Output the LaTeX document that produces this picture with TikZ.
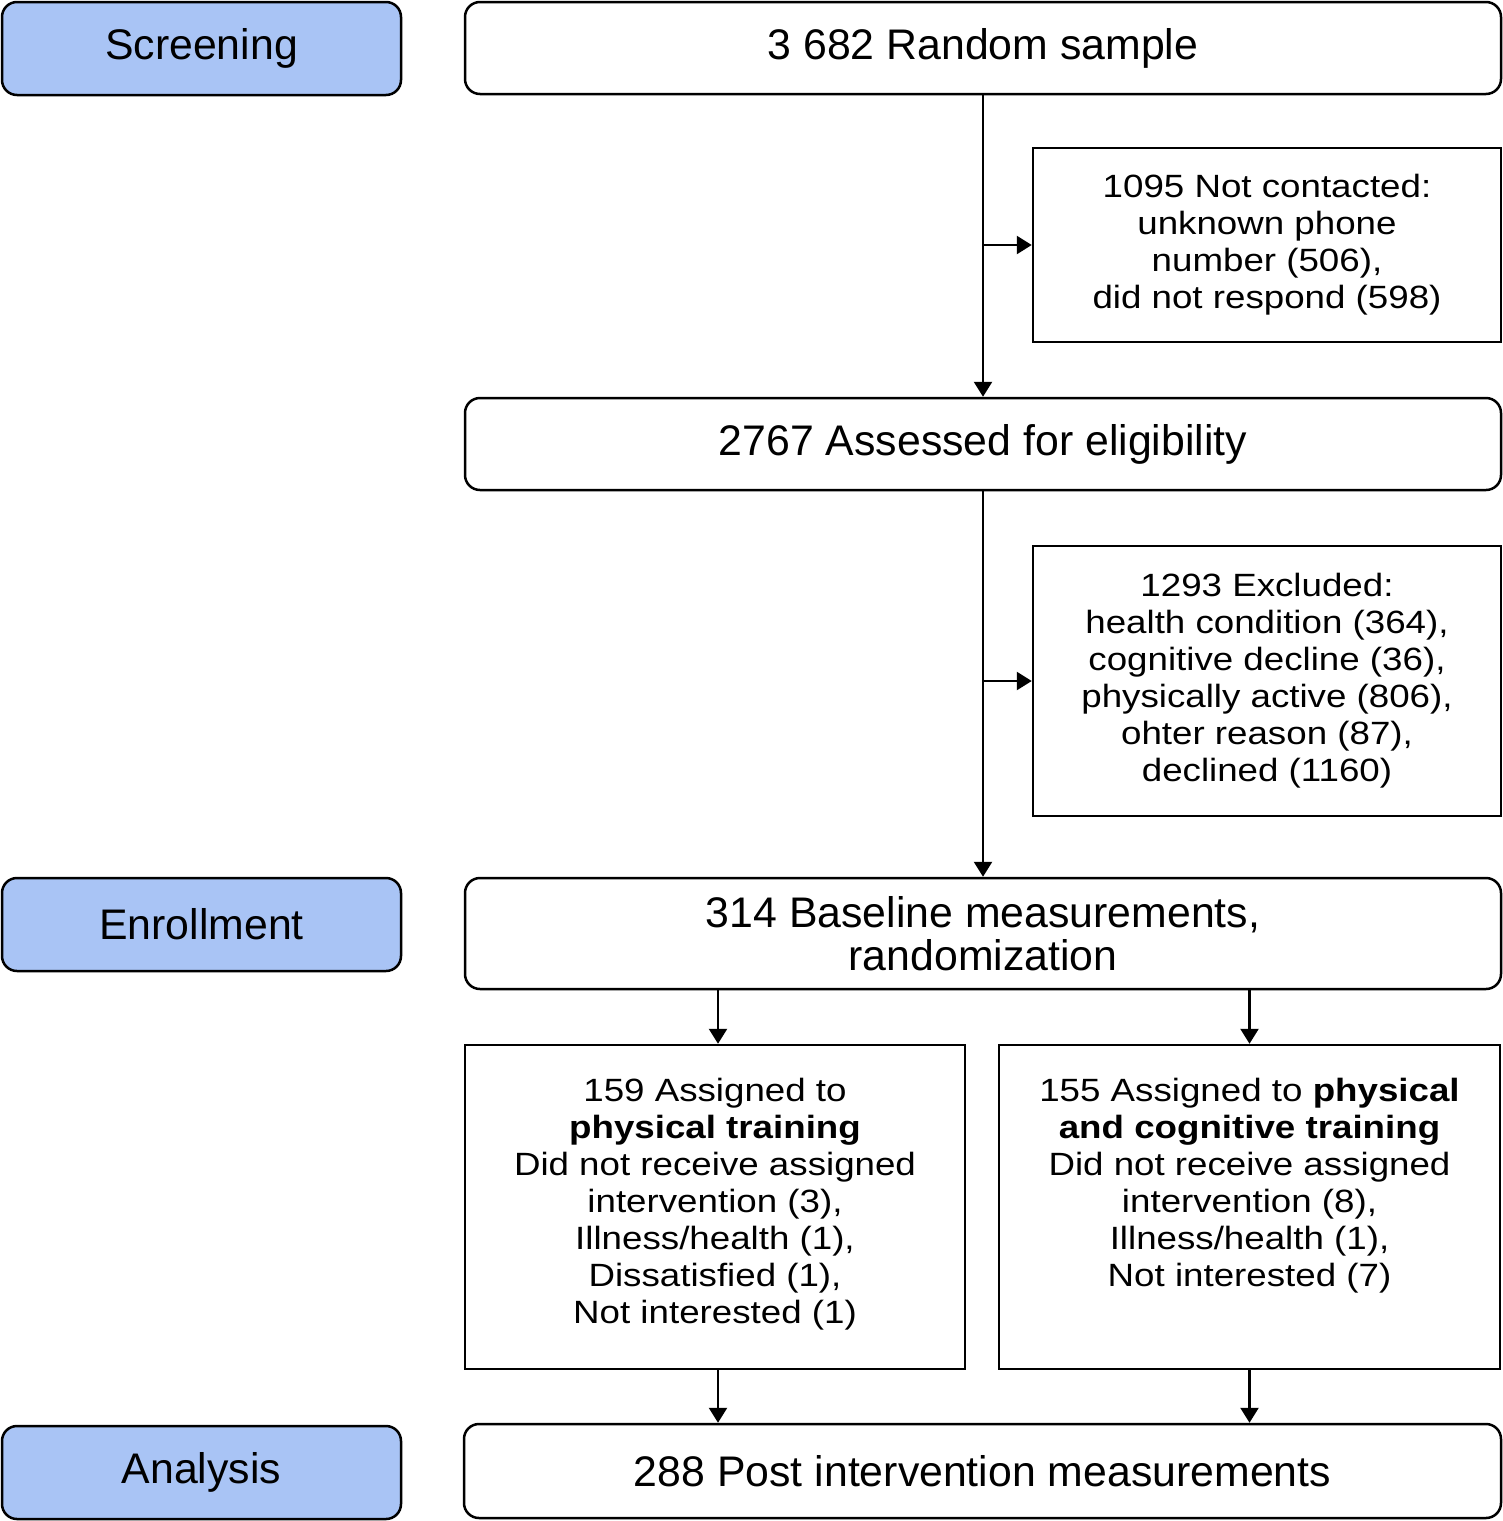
\documentclass[tikz,border=0pt]{standalone}
\usepackage{fontspec}
\setmainfont{Liberation Sans}
\newfontfamily\smallf{Liberation Sans}[FakeStretch=1.14]
\usetikzlibrary{arrows.meta}
\definecolor{stageblue}{HTML}{A9C4F5}
\tikzset{
  base/.style={draw=black, line width=2.5pt, inner sep=0pt, align=center},
  rbox/.style={base, rounded corners=15pt, font=\fontsize{42.8}{43}\selectfont},
  stagebox/.style={rbox, fill=stageblue},
  sqbox/.style={base, font=\smallf\fontsize{32.2}{37}\selectfont},
  txt/.style={inner sep=0pt, align=center, font=\smallf\fontsize{32.2}{37}\selectfont},
  arr/.style={line width=2.5pt, -{Triangle[length=15pt,width=18pt]}}
}
\begin{document}
\begin{tikzpicture}[x=1pt,y=-1pt]
\useasboundingbox (0,0) rectangle (1503,1521);
% stage labels
\node[stagebox, minimum width=399pt, minimum height=93pt] (scr) at (201.5,48.5) {Screening};
\node[stagebox, minimum width=399pt, minimum height=93pt] (enr) at (201.5,924.5) {Enrollment};
\node[stagebox, minimum width=399pt, minimum height=93pt] (ana) at (201.5,1472.5) {Analysis};
% main boxes
\node[rbox, minimum width=1036pt, minimum height=92pt] (rs) at (983,48) {3 682 Random sample};
\node[sqbox, minimum width=468pt, minimum height=194pt] (nc) at (1267,245) {1095 Not contacted:\\unknown phone\\number (506),\\did not respond (598)};
\node[rbox, minimum width=1036pt, minimum height=92pt] (el) at (983,444) {2767 Assessed for eligibility};
\node[sqbox, minimum width=468pt, minimum height=270pt] (ex) at (1267,681) {1293 Excluded:\\health condition (364),\\cognitive decline (36),\\physically active (806),\\ohter reason (87),\\declined (1160)};
\node[rbox, minimum width=1036pt, minimum height=111pt] (bm) at (983,933.5) {314 Baseline measurements,\\randomization};
\node[sqbox, minimum width=500pt, minimum height=324pt] (la) at (715,1207) {};
\node[sqbox, minimum width=501pt, minimum height=324pt] (ra) at (1249.5,1207) {};
\node[txt, anchor=north] (lat) at ([yshift=-34pt]la.north) {159 Assigned to\\\textbf{physical training}\\Did not receive assigned\\intervention (3),\\Illness/health (1),\\Dissatisfied (1),\\Not interested (1)};
\node[txt, anchor=north] (rat) at ([yshift=-34pt]ra.north) {155 Assigned to \textbf{physical}\\\textbf{and cognitive training}\\Did not receive assigned\\intervention (8),\\Illness/health (1),\\Not interested (7)};
\node[rbox, minimum width=1037pt, minimum height=94pt] (pi) at (982.5,1471) {288 Post intervention measurements};
% connectors
\draw[arr] (rs.south) -- (el.north);
\draw[arr] (rs.south |- nc.west) -- (nc.west);
\draw[arr] (el.south) -- (bm.north);
\draw[arr] (el.south |- ex.west) -- (ex.west);
\draw[arr] ([xshift=3pt]la.north |- bm.south) -- ([xshift=3pt]la.north);
\draw[arr] (ra.north |- bm.south) -- (ra.north);
\draw[arr] ([xshift=3pt]la.south) -- ([xshift=3pt]la.south |- pi.north);
\draw[arr] (ra.south) -- (ra.south |- pi.north);
\end{tikzpicture}
\end{document}
